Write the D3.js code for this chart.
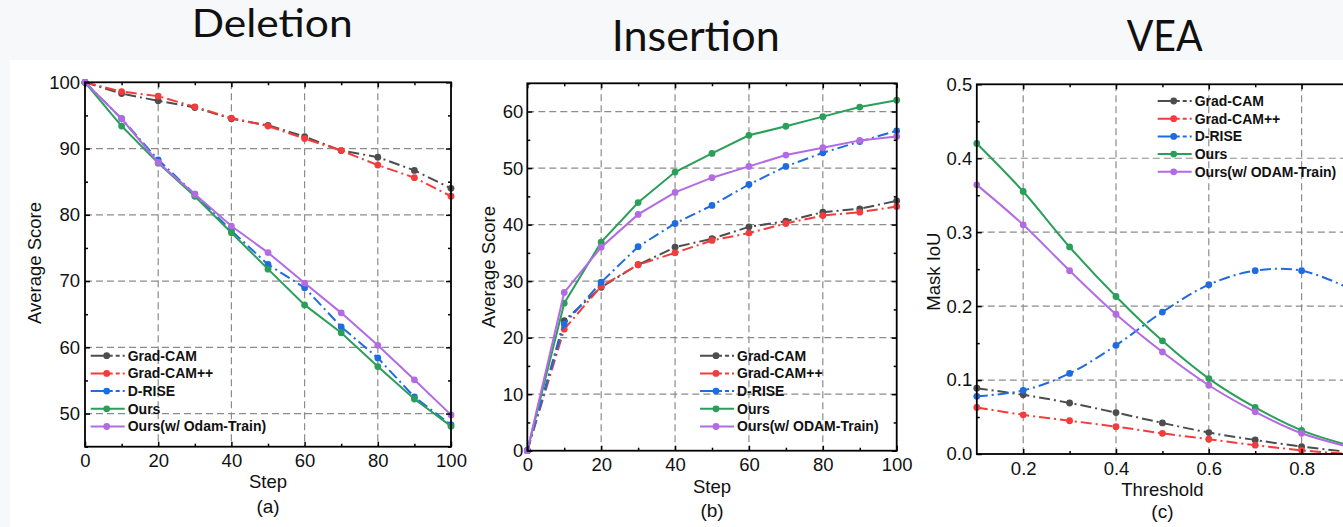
<!DOCTYPE html>
<html>
<head>
<meta charset="utf-8">
<script src="https://cdn.jsdelivr.net/npm/d3@7"></script>
<style>
  html, body { margin: 0; padding: 0; background: #f7f8fa; }
  svg { display: block; }
</style>
</head>
<body>
<svg id="chart" width="1343" height="527"></svg>
<script>
// ---- data ----
const steps = [0, 10, 20, 30, 40, 50, 60, 70, 80, 90, 100];
const thresholds = [0.1, 0.2, 0.3, 0.4, 0.5, 0.6, 0.7, 0.8, 0.9];

const methods = ["Grad-CAM", "Grad-CAM++", "D-RISE", "Ours", "Ours(w/ ODAM-Train)"];
const methodsDeletion = ["Grad-CAM", "Grad-CAM++", "D-RISE", "Ours", "Ours(w/ Odam-Train)"];

const delGradCam   = [100, 98.3, 97.2, 96.2, 94.5, 93.5, 91.8, 89.7, 88.7, 86.7, 84.0];
const delGradCamPP = [100, 98.6, 97.9, 96.3, 94.6, 93.4, 91.5, 89.7, 87.5, 85.6, 82.8];
const delDRise     = [100, 94.5, 88.3, 83.1, 77.6, 72.5, 69.0, 63.1, 58.4, 52.5, 48.3];
const delOurs      = [100, 93.4, 87.8, 82.8, 77.3, 71.8, 66.4, 62.2, 57.1, 52.2, 48.1];
const delOursOdam  = [100, 94.5, 87.9, 83.1, 78.3, 74.3, 69.7, 65.2, 60.3, 55.1, 49.8];

const insGradCam   = [0, 23.0, 28.9, 32.9, 36.0, 37.5, 39.6, 40.6, 42.2, 42.8, 44.2];
const insGradCamPP = [0, 21.5, 29.1, 32.9, 35.0, 37.2, 38.5, 40.2, 41.6, 42.2, 43.2];
const insDRise     = [0, 22.4, 29.8, 36.1, 40.2, 43.4, 47.1, 50.3, 52.7, 54.7, 56.6];
const insOurs      = [0, 26.1, 36.9, 43.9, 49.3, 52.6, 55.8, 57.4, 59.1, 60.8, 62.0];
const insOursOdam  = [0, 28.0, 36.0, 41.8, 45.7, 48.3, 50.3, 52.3, 53.6, 54.9, 55.6];

const veaGradCam   = [0.089, 0.080, 0.069, 0.056, 0.042, 0.029, 0.019, 0.010, 0.003];
const veaGradCamPP = [0.063, 0.053, 0.045, 0.037, 0.028, 0.020, 0.012, 0.005, 0.000];
const veaDRise     = [0.078, 0.086, 0.109, 0.147, 0.192, 0.229, 0.248, 0.248, 0.225];
const veaOurs      = [0.420, 0.355, 0.280, 0.213, 0.153, 0.102, 0.063, 0.032, 0.012];
const veaOursOdam  = [0.364, 0.310, 0.248, 0.189, 0.138, 0.093, 0.057, 0.028, 0.010];

const colors = ["#4d4d4d", "#f43c3c", "#1f6ce0", "#2a9f5a", "#b26be3"];
const dashed = [true, true, true, false, false];

const svg = d3.select("#chart");
const font = "'Liberation Sans', Arial, sans-serif";

// white figure area
svg.append("rect").attr("x", 10).attr("y", 60).attr("width", 1333).attr("height", 467).attr("fill", "#fff");

// titles above each panel
function title(text, x, y, size, len) {
  svg.append("text")
    .attr("x", x).attr("y", y)
    .attr("font-family", "Lato, 'Open Sans', sans-serif")
    .attr("font-size", size)
    .attr("fill", "#111")
    .attr("textLength", len)
    .attr("lengthAdjust", "spacingAndGlyphs")
    .text(text);
}
title("Deletion", 191.7, 37.3, 38, 161);
title("Insertion", 611.7, 50.7, 42, 168);
title("VEA", 1126.7, 50.7, 42, 76);

function drawPanel(cfg) {
  const x = d3.scaleLinear().domain(cfg.xDomain).range([cfg.left, cfg.right]);
  const y = d3.scaleLinear().domain(cfg.yDomain).range([cfg.bottom, cfg.top]);
  const g = svg.append("g");

  // dashed grid
  g.selectAll(".gx").data(cfg.xGrid).join("line")
    .attr("x1", d => x(d)).attr("x2", d => x(d))
    .attr("y1", cfg.top).attr("y2", cfg.bottom)
    .attr("stroke", "#8c8c8c").attr("stroke-width", 1.2).attr("stroke-dasharray", "7,4");
  g.selectAll(".gy").data(cfg.yGrid).join("line")
    .attr("x1", cfg.left).attr("x2", cfg.right)
    .attr("y1", d => y(d)).attr("y2", d => y(d))
    .attr("stroke", "#8c8c8c").attr("stroke-width", 1.2).attr("stroke-dasharray", "7,4");

  // series
  const line = d3.line().x(d => x(d[0])).y(d => y(d[1])).curve(cfg.curve);
  cfg.series.forEach((vals, i) => {
    const pts = cfg.xs.map((v, k) => [v, vals[k]]);
    g.append("path")
      .attr("d", line(pts))
      .attr("fill", "none")
      .attr("stroke", colors[i])
      .attr("stroke-width", 2)
      .attr("stroke-dasharray", dashed[i] ? "11,4,2,4" : null);
    g.selectAll(null).data(pts).join("circle")
      .attr("cx", d => x(d[0])).attr("cy", d => y(d[1]))
      .attr("r", 3.4).attr("fill", colors[i]);
  });

  // frame
  g.append("rect")
    .attr("x", cfg.left).attr("y", cfg.top)
    .attr("width", cfg.right - cfg.left).attr("height", cfg.bottom - cfg.top)
    .attr("fill", "none").attr("stroke", "#000").attr("stroke-width", 1.8);

  // axes: inward ticks on all sides
  const mk = (axis, pos, vals, size, fmt, pad) => {
    const a = axis.tickValues(vals).tickSize(-size).tickPadding(pad).tickFormat(fmt);
    const ax = g.append("g").attr("transform", pos).call(a);
    ax.select(".domain").remove();
    ax.selectAll("line").attr("stroke", "#000").attr("stroke-width", 1.5);
    ax.selectAll("text").attr("font-family", font).attr("font-size", 18.5).attr("fill", "#111");
    return ax;
  };
  const none = () => "";
  mk(d3.axisBottom(x), `translate(0,${cfg.bottom})`, cfg.xMajor, 5, cfg.xFmt, 7.5);
  mk(d3.axisBottom(x), `translate(0,${cfg.bottom})`, cfg.xMinor, 3, none, 0);
  mk(d3.axisTop(x), `translate(0,${cfg.top})`, cfg.xMajor, 5, none, 0);
  mk(d3.axisTop(x), `translate(0,${cfg.top})`, cfg.xMinor, 3, none, 0);
  mk(d3.axisLeft(y), `translate(${cfg.left},0)`, cfg.yMajor, 5, cfg.yFmt, cfg.yPad);
  mk(d3.axisLeft(y), `translate(${cfg.left},0)`, cfg.yMinor, 3, none, 0);
  mk(d3.axisRight(y), `translate(${cfg.right},0)`, cfg.yMajor, 5, none, 0);
  mk(d3.axisRight(y), `translate(${cfg.right},0)`, cfg.yMinor, 3, none, 0);

  // axis titles
  const cx = (cfg.left + Math.min(cfg.right, 1348)) / 2;
  svg.append("text").attr("x", cx).attr("y", cfg.bottom + cfg.xTitleOff)
    .attr("text-anchor", "middle").attr("dy", "0.35em")
    .attr("font-family", font).attr("font-size", 18.5).attr("fill", "#111").text(cfg.xTitle);
  svg.append("text").attr("x", cx).attr("y", cfg.bottom + cfg.subOff)
    .attr("text-anchor", "middle").attr("dy", "0.35em")
    .attr("font-family", font).attr("font-size", 19).attr("fill", "#111").text(cfg.sub);
  const ym = (cfg.top + cfg.bottom) / 2 + cfg.yTitleShift;
  svg.append("text")
    .attr("transform", `translate(${cfg.left - cfg.yTitleOff},${ym}) rotate(-90)`)
    .attr("text-anchor", "middle").attr("dy", "0.35em")
    .attr("font-family", font).attr("font-size", 18.5).attr("fill", "#111").text(cfg.yTitle);

  // legend
  const lg = g.append("g");
  cfg.names.forEach((name, i) => {
    const ly = cfg.legY + i * 17.7;
    lg.append("line")
      .attr("x1", cfg.legX).attr("x2", cfg.legX + 34)
      .attr("y1", ly).attr("y2", ly)
      .attr("stroke", colors[i]).attr("stroke-width", 2)
      .attr("stroke-dasharray", dashed[i] ? "22,3,4,3,2,20" : null);
    lg.append("circle").attr("cx", cfg.legX + 16).attr("cy", ly).attr("r", 3.4).attr("fill", colors[i]);
    lg.append("text").attr("x", cfg.legX + 37).attr("y", ly).attr("dy", "0.35em")
      .attr("font-family", font).attr("font-size", 14).attr("font-weight", "bold")
      .attr("fill", "#111").text(name);
  });
}

drawPanel({
  left: 85, right: 451, top: 82.3, bottom: 446.7,
  xDomain: [0, 100], yDomain: [45, 100],
  xs: steps, curve: d3.curveLinear,
  series: [delGradCam, delGradCamPP, delDRise, delOurs, delOursOdam],
  names: methodsDeletion,
  xMajor: [0, 20, 40, 60, 80, 100], xMinor: [10, 30, 50, 70, 90],
  yMajor: [50, 60, 70, 80, 90, 100], yMinor: [45, 55, 65, 75, 85, 95],
  xGrid: [20, 40, 60, 80], yGrid: [50, 60, 70, 80, 90],
  xFmt: d3.format("d"), yFmt: d3.format("d"), yPad: 5,
  xTitle: "Step", sub: "(a)", yTitle: "Average Score",
  xTitleOff: 35.3, subOff: 60, yTitleOff: 50, yTitleShift: -1.5,
  legX: 90.7, legY: 355.7
});

drawPanel({
  left: 527.3, right: 896.7, top: 83.3, bottom: 450.7,
  xDomain: [0, 100], yDomain: [0, 65],
  xs: steps, curve: d3.curveLinear,
  series: [insGradCam, insGradCamPP, insDRise, insOurs, insOursOdam],
  names: methods,
  xMajor: [0, 20, 40, 60, 80, 100], xMinor: [10, 30, 50, 70, 90],
  yMajor: [0, 10, 20, 30, 40, 50, 60], yMinor: [5, 15, 25, 35, 45, 55, 65],
  xGrid: [20, 40, 60, 80], yGrid: [10, 20, 30, 40, 50, 60],
  xFmt: d3.format("d"), yFmt: d3.format("d"), yPad: 4,
  xTitle: "Step", sub: "(b)", yTitle: "Average Score",
  xTitleOff: 36, subOff: 59.3, yTitleOff: 39, yTitleShift: 0,
  legX: 700, legY: 355.7
});

drawPanel({
  left: 976.8, right: 1348, top: 84.3, bottom: 454,
  xDomain: [0.1, 0.9], yDomain: [0, 0.5],
  xs: thresholds, curve: d3.curveCatmullRom,
  series: [veaGradCam, veaGradCamPP, veaDRise, veaOurs, veaOursOdam],
  names: methods,
  xMajor: [0.2, 0.4, 0.6, 0.8], xMinor: [0.3, 0.5, 0.7],
  yMajor: [0, 0.1, 0.2, 0.3, 0.4, 0.5], yMinor: [0.05, 0.15, 0.25, 0.35, 0.45],
  xGrid: [0.2, 0.4, 0.6, 0.8], yGrid: [0.1, 0.2, 0.3, 0.4],
  xFmt: d3.format(".1f"), yFmt: d3.format(".1f"), yPad: 4.5,
  xTitle: "Threshold", sub: "(c)", yTitle: "Mask IoU",
  xTitleOff: 36, subOff: 57.7, yTitleOff: 43.5, yTitleShift: 2.5,
  legX: 1157.7, legY: 101
});
</script>
</body>
</html>
